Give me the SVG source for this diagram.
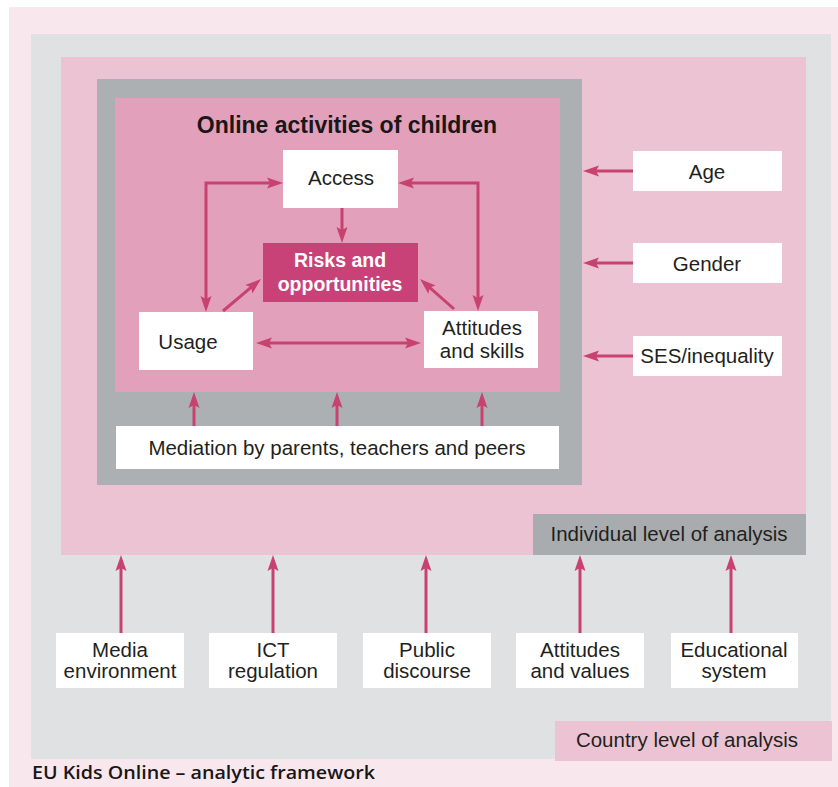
<svg xmlns="http://www.w3.org/2000/svg" width="838" height="787" viewBox="0 0 838 787">
  <style>
    .box { fill: #ffffff; }
    .t { font-family: "Liberation Sans", Arial, sans-serif; font-size: 20.5px; fill: #231f20; text-anchor: middle; }
    .tb { font-family: "Liberation Sans", Arial, sans-serif; font-weight: bold; text-anchor: middle; }
    .conn { fill: none; stroke: #c8426f; stroke-width: 3; }
    .end { marker-end: url(#ah); }
    .both { marker-start: url(#ah); marker-end: url(#ah); }
  </style>
  <defs>
    <marker id="ah" markerUnits="userSpaceOnUse" markerWidth="16" markerHeight="12" refX="6" refY="5.5" orient="auto-start-reverse" viewBox="0 0 16 11">
      <path d="M0,0 L16,5.5 L0,11 L3,5.5 Z" fill="#c8426f"/>
    </marker>
  </defs>

  <!-- backgrounds -->
  <rect x="0" y="0" width="838" height="787" fill="#ffffff"/>
  <rect x="9" y="7" width="829" height="780" fill="#f8e8ee"/>
  <g id="country-level">
    <rect x="31" y="34" width="800" height="725" fill="#dfe1e3"/>
  </g>
  <g id="individual-level">
    <rect x="61" y="57" width="745" height="498" fill="#ebc3d2"/>
  </g>
  <g id="online-frame">
    <rect x="97" y="79" width="485" height="406" fill="#adb0b2"/>
    <rect x="115" y="98" width="445" height="294" fill="#e3a0bb"/>
    <text class="tb" x="347" y="133" font-size="23" fill="#1a1718">Online activities of children</text>
  </g>

  <!-- connectors -->
  <g id="connectors">
    <path class="conn both" d="M273,183 L206,183 L206,302"/>
    <path class="conn both" d="M408,183 L478,183 L478,301"/>
    <path class="conn end" d="M342,208 L342,233"/>
    <path class="conn end" d="M223,311 L253.4,285.4"/>
    <path class="conn end" d="M454,309 L427.5,285.6"/>
    <path class="conn both" d="M266,343 L411,343"/>
    <path class="conn end" d="M194,426 L194,402"/>
    <path class="conn end" d="M337,426 L337,402"/>
    <path class="conn end" d="M482,426 L482,402"/>
    <path class="conn end" d="M633,171 L593,171"/>
    <path class="conn end" d="M633,263 L593,263"/>
    <path class="conn end" d="M633,356 L593,356"/>
    <path class="conn end" d="M121,633 L121,565"/>
    <path class="conn end" d="M273,633 L273,565"/>
    <path class="conn end" d="M426,633 L426,565"/>
    <path class="conn end" d="M580,633 L580,565"/>
    <path class="conn end" d="M731,633 L731,565"/>
  </g>

  <!-- nodes -->
  <g id="access">
    <rect class="box" x="283" y="150" width="115" height="58"/>
    <text class="t" x="341" y="185">Access</text>
  </g>
  <g id="risks">
    <rect x="263" y="243" width="155" height="59" fill="#c94277"/>
    <text class="tb" x="340" y="267" font-size="19.5" fill="#ffffff">Risks and</text>
    <text class="tb" x="340" y="291" font-size="19.5" fill="#ffffff">opportunities</text>
  </g>
  <g id="usage">
    <rect class="box" x="139" y="312" width="114" height="58"/>
    <text class="t" x="188" y="349">Usage</text>
  </g>
  <g id="attitudes-skills">
    <rect class="box" x="424" y="311" width="114" height="57"/>
    <text class="t" x="482" y="335">Attitudes</text>
    <text class="t" x="482" y="358">and skills</text>
  </g>
  <g id="mediation">
    <rect class="box" x="116" y="426" width="443" height="43"/>
    <text class="t" x="337" y="455">Mediation by parents, teachers and peers</text>
  </g>
  <g id="age">
    <rect class="box" x="633" y="151" width="149" height="40"/>
    <text class="t" x="707" y="179">Age</text>
  </g>
  <g id="gender">
    <rect class="box" x="633" y="243" width="149" height="40"/>
    <text class="t" x="707" y="271">Gender</text>
  </g>
  <g id="ses">
    <rect class="box" x="633" y="336" width="149" height="40"/>
    <text class="t" x="707" y="363">SES/inequality</text>
  </g>
  <g id="individual-label">
    <rect x="533" y="514" width="273" height="41" fill="#a9acae"/>
    <text class="t" x="669" y="541">Individual level of analysis</text>
  </g>
  <g id="media-environment">
    <rect class="box" x="56" y="633" width="128" height="55"/>
    <text class="t" x="120" y="657">Media</text>
    <text class="t" x="120" y="678">environment</text>
  </g>
  <g id="ict-regulation">
    <rect class="box" x="209" y="633" width="128" height="55"/>
    <text class="t" x="273" y="657">ICT</text>
    <text class="t" x="273" y="678">regulation</text>
  </g>
  <g id="public-discourse">
    <rect class="box" x="363" y="633" width="128" height="55"/>
    <text class="t" x="427" y="657">Public</text>
    <text class="t" x="427" y="678">discourse</text>
  </g>
  <g id="attitudes-values">
    <rect class="box" x="516" y="633" width="128" height="55"/>
    <text class="t" x="580" y="657">Attitudes</text>
    <text class="t" x="580" y="678">and values</text>
  </g>
  <g id="educational-system">
    <rect class="box" x="671" y="633" width="127" height="55"/>
    <text class="t" x="734" y="657">Educational</text>
    <text class="t" x="734" y="678">system</text>
  </g>
  <g id="country-label">
    <rect x="555" y="721" width="277" height="40" fill="#ebc3d2"/>
    <text class="t" x="687" y="747">Country level of analysis</text>
  </g>
  <g id="caption">
    <text x="32" y="779" font-family="'Open Sans', 'Liberation Sans', sans-serif" font-weight="600" font-size="18.5" fill="#1a1718" textLength="343" lengthAdjust="spacingAndGlyphs">EU Kids Online – analytic framework</text>
  </g>
</svg>
